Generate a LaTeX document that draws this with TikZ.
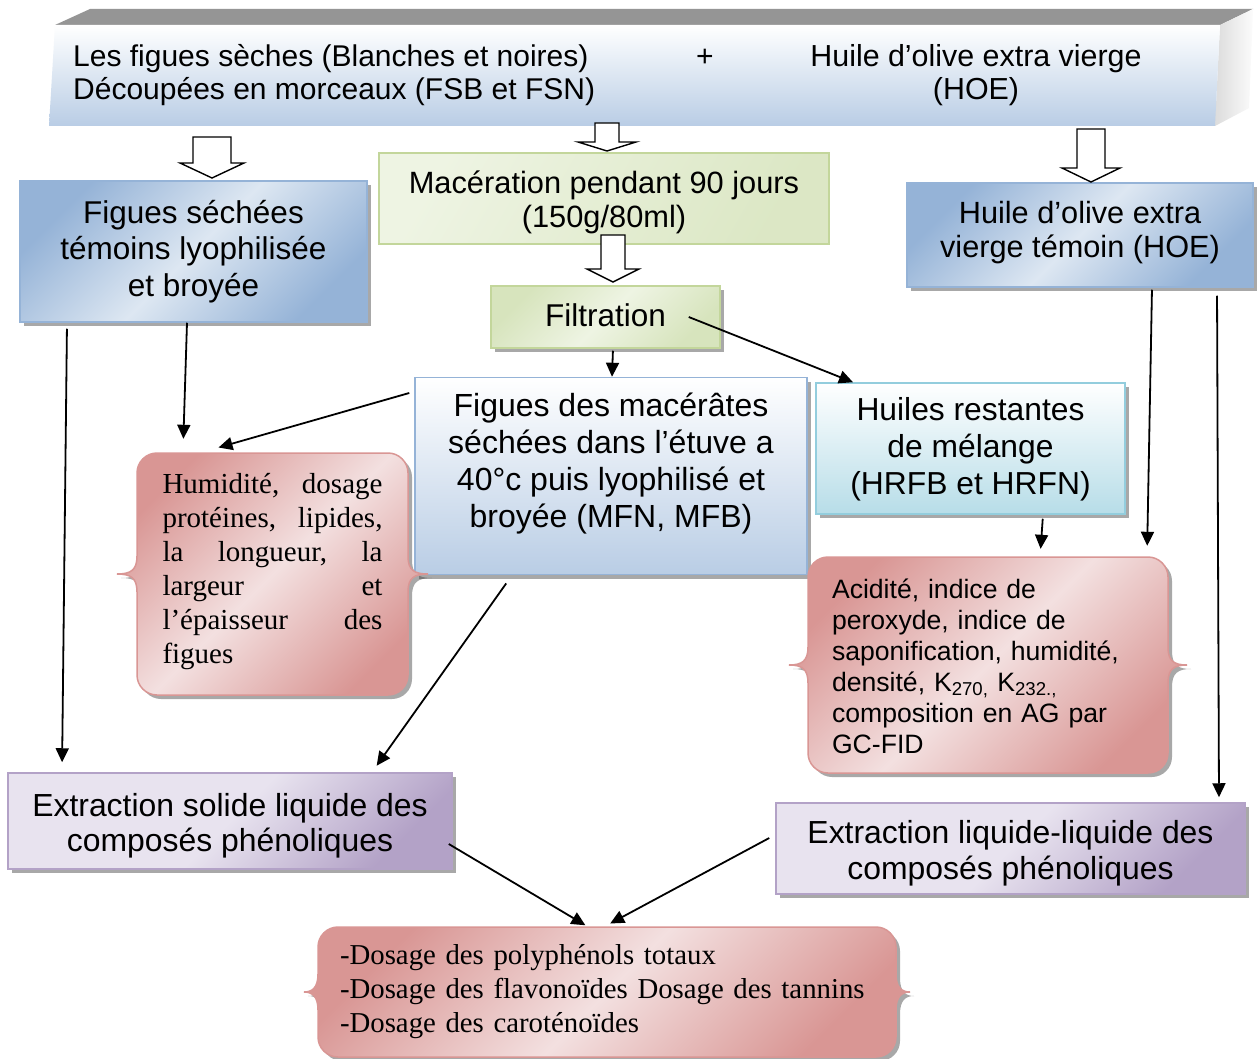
\documentclass[tikz,border=0pt]{standalone}
\usepackage{fontspec}
\setmainfont{Liberation Serif}
\setsansfont{Liberation Sans}
\usetikzlibrary{arrows.meta,shadows,calc}
\definecolor{bluedk}{HTML}{95B3D7}
\definecolor{bluelt}{HTML}{DDE7F2}
\definecolor{bluebot}{HTML}{B9CDE5}
\definecolor{greendk}{HTML}{D7E4BD}
\definecolor{greenlt}{HTML}{EEF4E3}
\definecolor{greenbd}{HTML}{C3D69B}
\definecolor{cyanbot}{HTML}{B7DDE8}
\definecolor{cyanbd}{HTML}{93CDDD}
\definecolor{purpdk}{HTML}{B3A2C7}
\definecolor{purplt}{HTML}{E8E3EF}
\definecolor{reddk}{HTML}{D99694}
\definecolor{redlt}{HTML}{F3E0E0}
\definecolor{bandgray}{HTML}{959595}
\definecolor{facegray}{HTML}{DCDCDC}
\newcommand{\blkarrow}[6]{%
  \draw[blkarr] ({#1-#5},#2) -- ({#1-#5},#3) -- ({#1-#6},#3) -- (#1,#4) -- ({#1+#6},#3) -- ({#1+#5},#3) -- ({#1+#5},#2) -- cycle;}
\tikzset{
  sh/.style={drop shadow={shadow xshift=4pt,shadow yshift=-4pt,opacity=0.45,fill=black!75}},
  bx/.style={line width=1.5pt, inner sep=0pt, align=center},
  bluediag/.style={bx, draw=bluedk, left color=bluedk, right color=bluedk, middle color=bluelt, shading angle=45, sh},
  bluevert/.style={bx, draw=bluedk, top color=white, bottom color=bluebot, sh},
  cyanvert/.style={bx, draw=cyanbd, top color=white, bottom color=cyanbot, sh},
  greenmac/.style={bx, draw=greenbd, left color=greenlt, right color=greendk!80!greenlt, shading angle=60},
  greendiag/.style={bx, draw=greenbd, left color=greendk, right color=greendk, middle color=greenlt, shading angle=45, sh},
  purpdiag/.style={bx, draw=purpdk, left color=purplt, right color=purpdk, middle color=purplt, shading angle=45, sh},
  reddiag/.style={line width=1.5pt, draw=reddk, left color=reddk, right color=reddk, middle color=redlt, shading angle=45, sh},
  blkarr/.style={draw=black, fill=white, line width=1.4pt, line join=miter},
  arr/.style={line width=1.8pt, -{Triangle[length=14pt,width=13pt]}},
  txt/.style={inner sep=0pt, align=center},
  % x1, y1, x2, y2, bump depth ; corner radius 20
  bracebox/.style n args={5}{insert path={
    ({(#1+#3)/2},#2) -- ({#3-20},#2)
    .. controls ({#3-9},#2) and (#3,{#2+9}) .. (#3,{#2+20})
    -- (#3,{(#2+#4)/2-18})
    .. controls (#3,{(#2+#4)/2-4}) and ({#3+6},{(#2+#4)/2}) .. ({#3+#5},{(#2+#4)/2})
    .. controls ({#3+6},{(#2+#4)/2}) and (#3,{(#2+#4)/2+4}) .. (#3,{(#2+#4)/2+18})
    -- (#3,{#4-20})
    .. controls (#3,{#4-9}) and ({#3-9},#4) .. ({#3-20},#4)
    -- ({#1+20},#4)
    .. controls ({#1+9},#4) and (#1,{#4-9}) .. (#1,{#4-20})
    -- (#1,{(#2+#4)/2+18})
    .. controls (#1,{(#2+#4)/2+4}) and ({#1-6},{(#2+#4)/2}) .. ({#1-#5},{(#2+#4)/2})
    .. controls ({#1-6},{(#2+#4)/2}) and (#1,{(#2+#4)/2-4}) .. (#1,{(#2+#4)/2-18})
    -- (#1,{#2+20})
    .. controls (#1,{#2+9}) and ({#1+9},#2) .. ({#1+20},#2)
    -- cycle}},
}
\begin{document}
\begin{tikzpicture}[x=1pt,y=-1pt]
\useasboundingbox[fill=white] (0,0) rectangle (1258,1059);

% ---- top banner (3D) ----
\fill[bandgray] (55,25) -- (90,9) -- (1253,9) -- (1220,25) -- cycle;
\shade[left color=facegray, right color=white!90!facegray] (1220,25) -- (1253,9) -- (1249,108) -- (1215,126) -- cycle;
\shade[top color=white, bottom color=bluebot] (49,126) -- (55,25) -- (1220,25) -- (1215,126) -- cycle;
\node[inner sep=0pt, minimum width=1166pt, minimum height=101pt] (ban) at (632,75.5) {};
\node[inner sep=0pt, anchor=west, align=left, font=\sffamily\fontsize{30pt}{33pt}\selectfont] (tl) at (73,75.5)
  {Les figues sèches (Blanches et noires)\\Découpées en morceaux (FSB et FSN)};
\node[inner sep=0pt, font=\sffamily\fontsize{30pt}{33pt}\selectfont] (plus) at (705,58) {+};
\node[inner sep=0pt, align=center, font=\sffamily\fontsize{30.4pt}{33pt}\selectfont] (tr) at (976,75.5)
  {Huile d’olive extra vierge\\(HOE)};

% ---- boxes ----
\node[bluediag, minimum width=347pt, minimum height=141pt] (fs) at (193.5,251.5) {};
\node[txt, font=\sffamily\fontsize{31.5pt}{36.5pt}\selectfont] (fs-t) at ($(fs.center)+(0,0)$)
  {Figues séchées\\témoins lyophilisée\\et broyée};
\node[greenmac, minimum width=450pt, minimum height=91pt] (mac) at (604,198.5) {};
\node[txt, font=\sffamily\fontsize{30.8pt}{34pt}\selectfont] (mac-t) at ($(mac.center)+(0,4)$)
  {Macération pendant 90 jours\\(150g/80ml)};
\node[greendiag, minimum width=229pt, minimum height=62pt] (fil) at (605.5,317) {};
\node[txt, font=\sffamily\fontsize{31.5pt}{36pt}\selectfont] (fil-t) at ($(fil.center)+(0,-1.5)$) {Filtration};
\node[bluediag, minimum width=346pt, minimum height=104pt] (hoe) at (1080,235) {};
\node[txt, font=\sffamily\fontsize{30.7pt}{34pt}\selectfont] (hoe-t) at ($(hoe.center)+(0,-2)$)
  {Huile d’olive extra\\vierge témoin (HOE)};
\node[bluevert, minimum width=392pt, minimum height=197pt] (mfn) at (611,476) {};
\node[txt, font=\sffamily\fontsize{32pt}{37pt}\selectfont] (mfn-t) at (611,464)
  {Figues des macérâtes\\séchées dans l’étuve a\\40°c puis lyophilisé et\\broyée (MFN, MFB)};
\node[cyanvert, minimum width=309pt, minimum height=131pt] (hr) at (970.5,448.5) {};
\node[txt, font=\sffamily\fontsize{31.8pt}{37pt}\selectfont] (hr-t) at ($(hr.center)+(0,1)$)
  {Huiles restantes\\de mélange\\(HRFB et HRFN)};
\node[purpdiag, minimum width=444pt, minimum height=96pt] (exS) at (230,821) {};
\node[txt, font=\sffamily\fontsize{31.9pt}{35.5pt}\selectfont] (exS-t) at ($(exS.center)+(0,4.5)$)
  {Extraction solide liquide des\\composés phénoliques};
\node[purpdiag, minimum width=469pt, minimum height=91pt] (exL) at (1010.5,848.5) {};
\node[txt, font=\sffamily\fontsize{31.9pt}{36pt}\selectfont] (exL-t) at ($(exL.center)+(0,5)$)
  {Extraction liquide-liquide des\\composés phénoliques};

% ---- brace boxes ----
\path[reddiag, bracebox={137}{453}{408}{695}{20}];
\node[inner sep=0pt, minimum width=271pt, minimum height=242pt, text width=220pt, align=left,
      font=\rmfamily\fontsize{29pt}{34pt}\selectfont] (redL) at (272.5,572)
  {Humidité,\hfill dosage\\protéines,\hfill lipides,\\la\hfill longueur,\hfill la\\largeur\hfill et\\l’épaisseur\hfill des\\figues};
\path[reddiag, bracebox={808}{557}{1168}{773}{19}];
\node[inner sep=0pt, minimum width=360pt, minimum height=216pt, text width=312pt, align=left,
      font=\sffamily\fontsize{26.6pt}{31pt}\selectfont] (redR) at (988,666)
  {Acidité, indice de\\peroxyde, indice de\\saponification, humidité,\\densité, K\textsubscript{270,} K\textsubscript{232.,}\\composition en AG par\\GC-FID};
\path[reddiag, bracebox={318}{927}{896}{1057}{14}];
\node[inner sep=0pt, minimum width=578pt, minimum height=130pt, text width=534pt, align=left,
      font=\rmfamily\fontsize{28.8pt}{34pt}\selectfont] (bot) at (607,992)
  {-Dosage des polyphénols totaux\\-Dosage des flavonoïdes Dosage des tannins\\-Dosage des caroténoïdes};

% ---- hollow block arrows ----
\blkarrow{212}{137}{163}{178}{19}{32}
\blkarrow{607}{123}{142}{151}{12}{29}
\blkarrow{1091}{129}{168}{182}{14}{29}
\blkarrow{613}{235}{269}{282}{12}{26}

% ---- thin arrows ----
\draw[arr, shorten <=6pt, shorten >=10pt] (fs.south -| 67,0) -- (exS.north -| 62,0);
\draw[arr, shorten >=12pt] (fs.south -| 187,0) -- (redL.north -| 183,0);
\draw[arr, shorten <=2pt] (fil.south -| 613,0) -- (mfn.north -| 612,0);
\draw[arr] ($(fil.east)+(-32,0)$) -- (hr.north -| 853,0);
\draw[arr, shorten >=12pt] ($(mfn.west |- 0,393)+(-5,0)$) -- (redL.north -| 207,0);
\draw[arr, shorten <=10pt, shorten >=8pt] (mfn.south -| 512,0) -- (exS.north -| 372,0);
\draw[arr, shorten <=4pt, shorten >=9pt] (hr.south -| 1043,0) -- (redR.north -| 1040,0);
\draw[arr, shorten <=2pt, shorten >=12pt] (hoe.south -| 1152,0) -- (redR.north -| 1147,0);
\draw[arr, shorten <=8pt, shorten >=5pt] (hoe.south -| 1217,0) -- (exL.north -| 1219,0);
\draw[arr, shorten >=3pt] ($(exS.east |- 0,844)+(-4,0)$) -- (bot.north -| 588,0);
\draw[arr, shorten >=7pt] ($(exL.west |- 0,838)+(-6,0)$) -- (bot.north -| 604,0);
\end{tikzpicture}
\end{document}
